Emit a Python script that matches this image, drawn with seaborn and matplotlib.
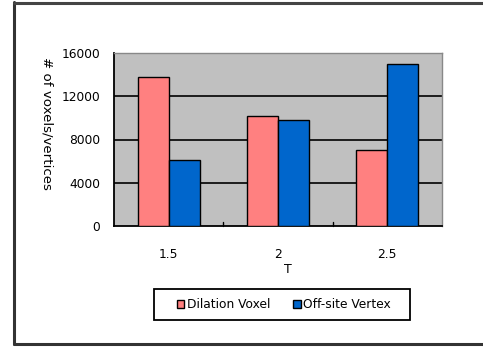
import matplotlib
matplotlib.use("Agg")
import matplotlib.pyplot as plt
import seaborn as sns
import pandas as pd
from matplotlib.patches import Patch, Rectangle

categories = ["1.5", "2", "2.5"]
dilation_voxel = [13800, 10200, 7050]
offsite_vertex = [6100, 9800, 14950]
series_names = ["Dilation Voxel", "Off-site Vertex"]
y_ticks = [0, 4000, 8000, 12000, 16000]

df = pd.DataFrame({
    "T": categories * 2,
    "value": dilation_voxel + offsite_vertex,
    "series": [series_names[0]] * 3 + [series_names[1]] * 3,
})

colors = {"Dilation Voxel": "#FF8080", "Off-site Vertex": "#0066CC"}

sns.set_theme(style="white")
plt.rcParams["font.family"] = ["DejaVu Sans"]
plt.rcParams["text.color"] = "black"
plt.rcParams["axes.labelcolor"] = "black"
plt.rcParams["xtick.color"] = "black"
plt.rcParams["ytick.color"] = "black"

W, H = 483, 349
fig = plt.figure(figsize=(W / 100, H / 100), dpi=100)
fig.patch.set_facecolor("white")
fig.patch.set_edgecolor("white")
ax = fig.add_axes([114 / W, 1 - 226 / H, (442 - 114) / W, (226 - 53) / H])

sns.barplot(data=df, x="T", y="value", hue="series", order=categories,
            hue_order=series_names, palette=colors, width=0.57,
            edgecolor="black", linewidth=1.0, saturation=1, ax=ax,
            legend=False, zorder=3)

ax.set_facecolor("#C0C0C0")
ax.set_xlim(-0.5, 2.5)
ax.set_ylim(0, 16000)
ax.set_yticks(y_ticks)
ax.set_yticklabels([str(v) for v in y_ticks], fontsize=8.8)
ax.set_xticks([0, 1, 2])
ax.set_xticklabels(categories, fontsize=8.8)
ax.tick_params(axis="x", length=0, pad=16)
ax.tick_params(axis="y", length=0, pad=10)
for v in y_ticks[1:-1]:
    ax.axhline(v, color="black", linewidth=1.2, zorder=1)
for xb in [0.5, 1.5]:
    ax.plot([xb, xb], [0, 350], color="black", linewidth=1, zorder=2, clip_on=False)
for s in ["top", "right"]:
    ax.spines[s].set_color("#888888")
    ax.spines[s].set_linewidth(1)
ax.spines["left"].set_color("black")
ax.spines["left"].set_linewidth(1.3)
ax.spines["bottom"].set_color("black")
ax.spines["bottom"].set_linewidth(1.3)
ax.grid(False)

ax.set_xlabel("T", fontsize=9, labelpad=4)
ax.xaxis.set_label_coords((288 - 114) / (442 - 114), -0.215)
ax.set_ylabel("# of voxels/vertices", fontsize=9.6, rotation=270, labelpad=0)
ax.yaxis.set_label_coords((40 - 114) / (442 - 114), 0.592)

# legend box
fig.add_artist(Rectangle((154 / W, 1 - 320 / H), (410 - 154) / W, (320 - 289) / H,
                         transform=fig.transFigure, facecolor="white",
                         edgecolor="black", linewidth=1.3))
handles = [Patch(facecolor=colors[n], edgecolor="black", linewidth=1, label=n)
           for n in series_names]
leg = fig.legend(handles=handles, loc="center",
                 bbox_to_anchor=(284 / W, 1 - 304.5 / H), ncol=2,
                 fontsize=8.8, frameon=False,
                 handlelength=0.6, handleheight=0.6, handletextpad=0.2,
                 columnspacing=1.9, borderpad=0.3, borderaxespad=0)

# outer frame
fig.add_artist(plt.Line2D([14 / W, 14 / W], [1 - 2 / H, 1 - 344 / H], color="#333333", linewidth=2.2, transform=fig.transFigure))
fig.add_artist(plt.Line2D([14 / W, 1], [1 - 2.5 / H, 1 - 2.5 / H], color="#444444", linewidth=2.2, transform=fig.transFigure))
fig.add_artist(plt.Line2D([14 / W, 1], [1 - 344 / H, 1 - 344 / H], color="#333333", linewidth=2.2, transform=fig.transFigure))

fig.savefig("out.png", dpi=100, facecolor="white")
